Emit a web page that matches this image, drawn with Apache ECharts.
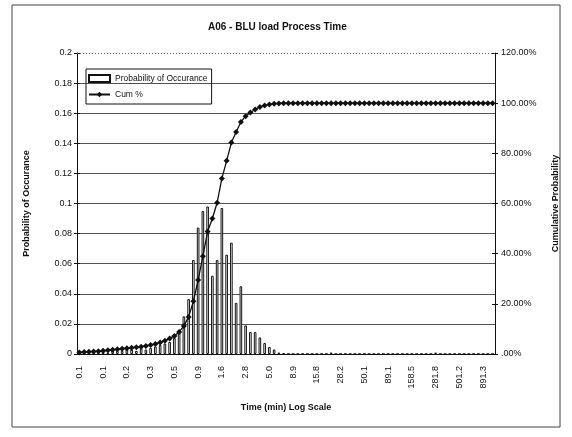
<!DOCTYPE html>
<html>
<head>
<meta charset="utf-8">
<script src="https://cdn.jsdelivr.net/npm/echarts@6/dist/echarts.min.js"></script>
<style>html,body{margin:0;padding:0;background:#fff;}#c{width:572px;height:437px;}</style>
</head>
<body>
<div id="c"></div>
<script>
// Bin labels (minutes, log scale, one decimal)
const categories = [
"0.1","0.1","0.1","0.1","0.1","0.1","0.1","0.1","0.1","0.1",
"0.2","0.2","0.2","0.2","0.3","0.3","0.3","0.4","0.4","0.4",
"0.5","0.6","0.6","0.7","0.8","0.9","1.0","1.1","1.3","1.4",
"1.6","1.8","2.0","2.2","2.5","2.8","3.2","3.5","4.0","4.5",
"5.0","5.6","6.3","7.1","7.9","8.9","10.0","11.2","12.6","14.1",
"15.8","17.8","20.0","22.4","25.1","28.2","31.6","35.5","39.8","44.7",
"50.1","56.2","63.1","70.8","79.4","89.1","100.0","112.2","125.9","141.3",
"158.5","177.8","199.5","223.9","251.2","281.8","316.2","354.8","398.1","446.7",
"501.2","562.3","631.0","707.9","794.3","891.3","1000.0","1122.0"
];
// Probability of Occurance
const probability = [
0.001,0.002,0.002,0.001,0.002,0.002,0.001,0.003,0.002,0.002,
0.003,0.003,0.002,0.004,0.003,0.004,0.005,0.006,0.007,0.008,
0.0106,0.016,0.025,0.0365,0.0625,0.084,0.095,0.098,0.052,0.0625,
0.097,0.066,0.074,0.034,0.045,0.019,0.0146,0.0146,0.011,0.0073,
0.0047,0.003,0.001,0.0005,0,0,0,0,0,0,
0,0,0,0.001,0,0,0,0,0,0,
0,0,0,0,0,0,0,0,0,0,
0,0,0,0,0,0.001,0,0,0,0,
0,0,0,0,0,0,0,0
];
// Cum % (fraction)
const cumulative = [
0.006,0.008,0.009,0.010,0.011,0.013,0.015,0.017,0.019,0.021,
0.023,0.025,0.027,0.029,0.032,0.036,0.040,0.046,0.053,0.062,
0.072,0.088,0.112,0.148,0.21,0.295,0.39,0.488,0.54,0.603,
0.70,0.77,0.843,0.885,0.925,0.948,0.963,0.975,0.985,0.991,
0.995,0.998,0.999,1,1,1,1,1,1,1,
1,1,1,1,1,1,1,1,1,1,
1,1,1,1,1,1,1,1,1,1,
1,1,1,1,1,1,1,1,1,1,
1,1,1,1,1,1,1,1
];
const leftTicks = {min:0, max:0.2, interval:0.02};
const rightTicks = {min:0, max:1.2, interval:0.2};

const FONT = 'Liberation Sans';
const chart = echarts.init(document.getElementById('c'), null, {renderer:'canvas'});
chart.setOption({
  backgroundColor:'#fff',
  animation:false,
  title:{text:'A06 - BLU load Process Time', left:203, top:17,
    textStyle:{fontFamily:FONT, fontSize:10, fontWeight:'bold', color:'#111'}},
  graphic:[{type:'rect', shape:{x:12,y:5,width:548,height:422},
    style:{fill:'none', stroke:'#444', lineWidth:1}, z:-1}],
  legend:{orient:'vertical', left:86, top:69, itemGap:7, itemWidth:21, itemHeight:7,
    borderColor:'#111', borderWidth:1, padding:[5,4,5,2],
    textStyle:{fontFamily:FONT, fontSize:8.5, color:'#111'},
    data:[{name:'Probability of Occurance', icon:'rect'},{name:'Cum %'}]},
  grid:{left:77, right:77, top:53, bottom:83},
  xAxis:[{type:'category', data:categories, boundaryGap:true,
    name:'Time (min) Log Scale', nameLocation:'middle', nameGap:49,
    nameTextStyle:{fontFamily:FONT, fontSize:9, fontWeight:'bold', color:'#111'},
    axisLine:{lineStyle:{color:'#111', width:1}},
    axisTick:{interval:0, length:3, lineStyle:{color:'#111'}},
    axisLabel:{interval:4, rotate:90, margin:12, fontFamily:FONT, fontSize:9, color:'#111'}},
   {type:'category', data:categories, position:'bottom',
    axisLine:{show:false}, axisLabel:{show:false},
    axisTick:{interval:0, inside:true, length:3, lineStyle:{color:'#111'}}}],
  yAxis:[{type:'value', min:leftTicks.min, max:leftTicks.max, interval:leftTicks.interval,
    name:'Probability of Occurance', nameLocation:'middle', nameGap:46, nameRotate:90,
    nameTextStyle:{fontFamily:FONT, fontSize:9, fontWeight:'bold', color:'#111'},
    axisLine:{show:true, lineStyle:{color:'#111'}},
    axisTick:{show:true, length:3, lineStyle:{color:'#111'}},
    axisLabel:{fontFamily:FONT, fontSize:9, color:'#111', margin:5,
      formatter:v=>String(Math.round(v*100)/100)},
    splitLine:{show:true, lineStyle:{color:['#555','#555','#555','#555','#555','#555','#555','#555','#555','#555','rgba(0,0,0,0)'], width:1}}},
   {type:'value', min:rightTicks.min, max:rightTicks.max, interval:rightTicks.interval, position:'right',
    name:'Cumulative Probability', nameLocation:'middle', nameGap:56, nameRotate:90,
    nameTextStyle:{fontFamily:FONT, fontSize:9, fontWeight:'bold', color:'#111'},
    axisLine:{show:true, lineStyle:{color:'#111'}},
    axisTick:{show:true, length:3, lineStyle:{color:'#111'}},
    axisLabel:{fontFamily:FONT, fontSize:9, color:'#111', margin:6,
      formatter:v=> v===0 ? '.00%' : (v*100).toFixed(2)+'%'},
    splitLine:{show:false}},
   {type:'value', min:leftTicks.min, max:leftTicks.max, interval:leftTicks.interval, position:'left',
    axisLine:{show:false}, axisLabel:{show:false}, splitLine:{show:false},
    axisTick:{show:true, inside:true, length:3, lineStyle:{color:'#111'}}},
   {type:'value', min:rightTicks.min, max:rightTicks.max, interval:rightTicks.interval, position:'right',
    axisLine:{show:false}, axisLabel:{show:false}, splitLine:{show:false},
    axisTick:{show:true, inside:true, length:3, lineStyle:{color:'#111'}}}],
  series:[
   {name:'Probability of Occurance', type:'bar', xAxisIndex:0, yAxisIndex:0, data:probability,
    barWidth:'55%', itemStyle:{color:'#fff', borderColor:'#111', borderWidth:1},
    markLine:{silent:true, symbol:'none', label:{show:false},
      lineStyle:{color:'#666', type:[1,2], width:1}, data:[{yAxis:leftTicks.max}]}},
   {name:'Cum %', type:'line', xAxisIndex:0, yAxisIndex:1, data:cumulative,
    symbol:'diamond', symbolSize:6, showSymbol:true, showAllSymbol:true,
    lineStyle:{color:'#111', width:1.3}, itemStyle:{color:'#111'}}
  ]
});
</script>
</body>
</html>
